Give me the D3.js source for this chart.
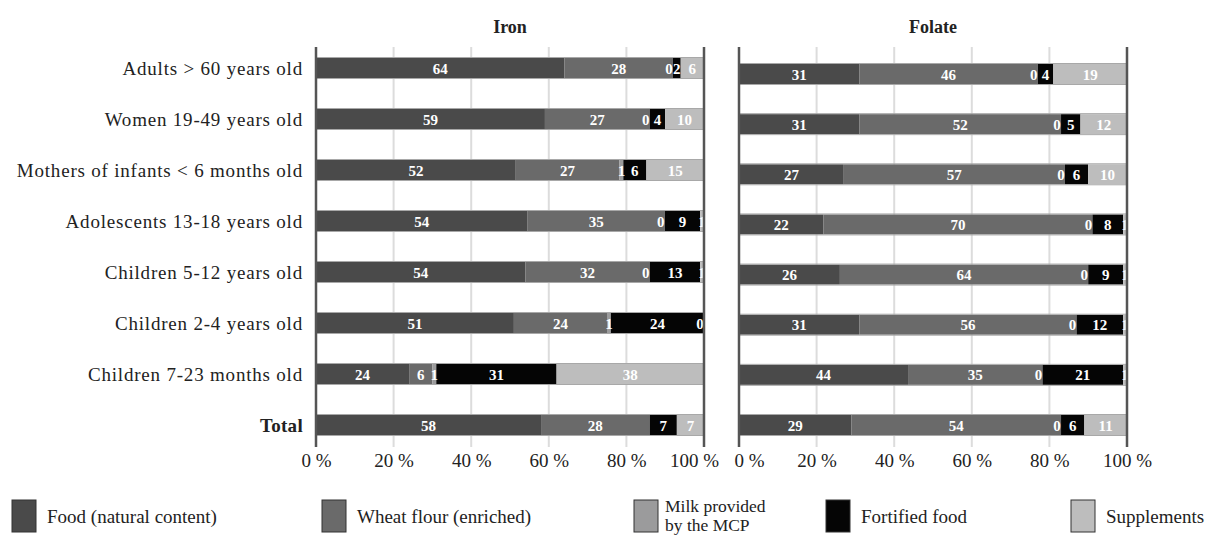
<!DOCTYPE html>
<html>
<head>
<meta charset="utf-8">
<script src="https://cdn.jsdelivr.net/npm/d3@7"></script>
<style>
  html, body { margin: 0; padding: 0; background: #fff; }
  svg { display: block; font-family: "Liberation Serif", "Times New Roman", serif; }
</style>
</head>
<body>
<svg id="chart" width="1219" height="535"></svg>
<script>
// ---------- DATA ----------
const categories = [
  "Adults > 60 years old",
  "Women 19-49 years old",
  "Mothers of infants < 6 months old",
  "Adolescents 13-18 years old",
  "Children 5-12 years old",
  "Children 2-4 years old",
  "Children 7-23 months old",
  "Total"
];
const seriesKeys = ["food", "wheat", "milk", "fortified", "supplements"];
const seriesNames = ["Food (natural content)", "Wheat flour (enriched)", "Milk provided|by the MCP", "Fortified food", "Supplements"];
const seriesColors = ["#4a4a4a", "#6a6a6a", "#9b9b9c", "#050505", "#bdbdbd"];

// Iron (%)
const ironFood        = [64, 59, 52, 54, 54, 51, 24, 58];
const ironWheat       = [28, 27, 27, 35, 32, 24, 6, 28];
const ironMilk        = [0, 0, 1, 0, 0, 1, 1, null];
const ironFortified   = [2, 4, 6, 9, 13, 24, 31, 7];
const ironSupplements = [6, 10, 15, 1, 1, 0, 38, 7];

// Folate (%)
const folateFood        = [31, 31, 27, 22, 26, 31, 44, 29];
const folateWheat       = [46, 52, 57, 70, 64, 56, 35, 54];
const folateMilk        = [0, 0, 0, 0, 0, 0, 0, 0];
const folateFortified   = [4, 5, 6, 8, 9, 12, 21, 6];
const folateSupplements = [19, 12, 10, 1, 1, 1, 1, 11];

const xTicks = [0, 0.2, 0.4, 0.6, 0.8, 1];
const xTickLabels = ["0 %", "20 %", "40 %", "60 %", "80 %", "100 %"];

// ---------- BUILD ----------
function buildRows(arrs) {
  return categories.map((c, i) => {
    const o = { category: c };
    seriesKeys.forEach((k, j) => { o[k] = arrs[j][i] == null ? 0 : arrs[j][i]; o[k + "_raw"] = arrs[j][i]; });
    return o;
  });
}
const ironRows = buildRows([ironFood, ironWheat, ironMilk, ironFortified, ironSupplements]);
const folateRows = buildRows([folateFood, folateWheat, folateMilk, folateFortified, folateSupplements]);

const svg = d3.select("#chart");
const color = d3.scaleOrdinal().domain(seriesKeys).range(seriesColors);
const stack = d3.stack().keys(seriesKeys).offset(d3.stackOffsetExpand);

const axisTop = 47, axisBottom = 447;
const barH = 20;

function drawPanel(rows, x0, x1, yRange, title, tickShift) {
  const x = d3.scaleLinear().domain([0, 1]).range([x0, x1]);
  const y = d3.scalePoint().domain(categories).range(yRange);
  const g = svg.append("g");

  // gridlines
  g.selectAll("line.grid").data(xTicks.slice(1, -1)).join("line")
    .attr("x1", d => x(d)).attr("x2", d => x(d))
    .attr("y1", axisTop).attr("y2", axisBottom)
    .attr("stroke", "#dcdcdc").attr("stroke-width", 2);

  const stacked = stack(rows);
  stacked.forEach((layer, li) => {
    g.append("g").selectAll("rect").data(layer).join("rect")
      .attr("x", d => x(d[0]))
      .attr("width", d => Math.max(0, x(d[1]) - x(d[0])))
      .attr("y", d => y(d.data.category) - barH / 2)
      .attr("height", barH)
      .attr("fill", color(layer.key));
  });
  // bar outline (light edge)
  g.selectAll("rect.edge").data(rows).join("rect")
    .attr("x", x0).attr("width", x1 - x0)
    .attr("y", d => y(d.category) - barH / 2 - 0.5)
    .attr("height", barH + 1)
    .attr("fill", "none").attr("stroke", "#a8a8a8").attr("stroke-width", 1);

  // value labels
  stacked.forEach(layer => {
    g.append("g").selectAll("text").data(layer.filter(d => d.data[layer.key + "_raw"] != null)).join("text")
      .attr("x", d => {
        const c = (x(d[0]) + x(d[1])) / 2;
        return d.data[layer.key] === 0 ? c - 4 : c;
      })
      .attr("y", d => y(d.data.category) + 5.5)
      .attr("text-anchor", "middle")
      .attr("fill", "#fff")
      .attr("font-size", 15)
      .attr("font-weight", "bold")
      .text(d => d.data[layer.key]);
  });

  // axis lines (left and right)
  g.selectAll("line.ax").data([0, 1]).join("line")
    .attr("x1", d => x(d)).attr("x2", d => x(d))
    .attr("y1", axisTop).attr("y2", axisBottom)
    .attr("stroke", "#555").attr("stroke-width", 2.5);

  // x axis labels
  const ax = d3.axisBottom(x).tickValues(xTicks).tickFormat((d, i) => xTickLabels[i]).tickSize(0).tickPadding(0);
  const axg = g.append("g").attr("transform", `translate(0,${axisBottom + 4})`).call(ax);
  axg.select(".domain").remove();
  axg.selectAll("text").attr("font-size", 19).attr("fill", "#222")
    .attr("font-family", "Liberation Serif, serif").attr("dy", "0.85em")
    .attr("dx", d => (tickShift[d] || 0));

  // title
  g.append("text").attr("x", (x0 + x1) / 2).attr("y", 33)
    .attr("text-anchor", "middle").attr("font-weight", "bold")
    .attr("font-size", 18).attr("fill", "#222").text(title);
  return y;
}

const yIron = drawPanel(ironRows, 316, 704, [68, 425], "Iron", { 1: -10 });
drawPanel(folateRows, 739, 1127, [74, 425], "Folate", { 0: 10 });

// category labels
const yAxis = d3.axisLeft(yIron).tickSize(0).tickPadding(0);
const yg = svg.append("g").attr("transform", "translate(303,0)").call(yAxis);
yg.select(".domain").remove();
yg.selectAll("text").attr("font-size", 19).attr("fill", "#222")
  .attr("font-family", "Liberation Serif, serif")
  .attr("letter-spacing", d => d === "Total" ? "0.3px" : "0.8px")
  .attr("font-weight", d => d === "Total" ? "bold" : "normal");

// legend
const legendX = [12, 322, 634, 826, 1071];
const lg = svg.append("g");
seriesKeys.forEach((k, i) => {
  const gi = lg.append("g").attr("transform", `translate(${legendX[i]},500)`);
  gi.append("rect").attr("x", 0).attr("y", 0).attr("width", 24).attr("height", 32)
    .attr("fill", color(k)).attr("stroke", "#333").attr("stroke-width", 1);
  const lines = seriesNames[i].split("|");
  if (lines.length === 1) {
    gi.append("text").attr("x", 35).attr("y", 23).attr("font-size", 19).attr("fill", "#222").text(lines[0]);
  } else {
    lines.forEach((ln, j) => gi.append("text").attr("x", 31).attr("y", 12 + j * 19)
      .attr("font-size", 17.5).attr("fill", "#222").text(ln));
  }
});
</script>
</body>
</html>
